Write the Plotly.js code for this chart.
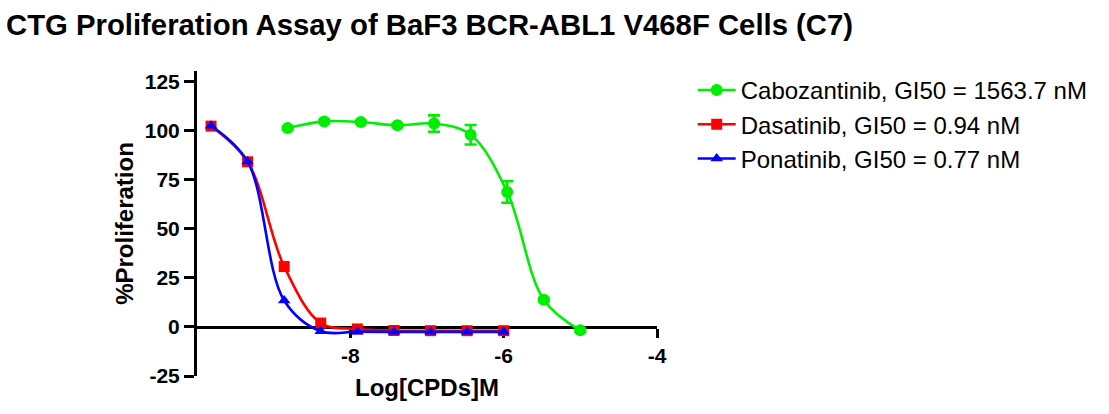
<!DOCTYPE html>
<html>
<head>
<meta charset="utf-8">
<script src="https://cdn.plot.ly/plotly-3.0.1.min.js"></script>
<style>html,body{margin:0;padding:0;background:#fff;}#chart{width:1109px;height:414px;}</style>
</head>
<body>
<div id="chart"></div>
<script>
// Log concentrations (M)
const xCabozantinib = [-8.817, -8.340, -7.863, -7.385, -6.908, -6.431, -5.954, -5.477, -5.000];
const yCabozantinib = [101.4, 104.8, 104.5, 102.8, 103.7, 98.0, 68.8, 13.9, -1.7];
const errCabozantinib = [0.8, 0.8, 0.8, 0.8, 4.2, 5.0, 5.5, 0.8, 0.8];

const xDasatinib = [-9.817, -9.340, -8.863, -8.386, -7.908, -7.431, -6.954, -6.477, -6.000];
const yDasatinib = [102.4, 84.2, 30.8, 2.0, -1.0, -1.8, -1.9, -1.9, -1.9];

const xPonatinib = [-9.817, -9.340, -8.863, -8.386, -7.908, -7.431, -6.954, -6.477, -6.000];
const yPonatinib = [102.6, 84.3, 13.5, -2.2, -2.4, -2.5, -2.5, -2.5, -2.5];

const seriesNames = [
  'Cabozantinib, GI50 = 1563.7 nM',
  'Dasatinib, GI50 = 0.94 nM',
  'Ponatinib, GI50 = 0.77 nM'
];
const xTickVals = [-8, -6, -4];
const yTickVals = [-25, 0, 25, 50, 75, 100, 125];

const FONT = 'Arial, "Liberation Sans", sans-serif';

const traces = [
  {
    x: xCabozantinib, y: yCabozantinib, name: seriesNames[0], legendgroup: 'a',
    mode: 'lines+markers', type: 'scatter', cliponaxis: false,
    line: {color: '#00ee00', width: 2.6, shape: 'spline', smoothing: 1},
    marker: {color: '#00ee00', size: 12, symbol: 'circle'},
    error_y: {type: 'data', array: errCabozantinib, visible: true, color: '#00ee00', thickness: 2.6, width: 6}
  },
  {
    x: xDasatinib, y: yDasatinib, name: seriesNames[1], legendgroup: 'b',
    mode: 'lines+markers', type: 'scatter', cliponaxis: false,
    line: {color: '#ff0000', width: 2.6, shape: 'spline', smoothing: 1},
    marker: {color: '#ff0000', size: 11, symbol: 'square'}
  },
  {
    x: xPonatinib, y: yPonatinib, name: seriesNames[2], legendgroup: 'c',
    mode: 'lines+markers', type: 'scatter', cliponaxis: false,
    line: {color: '#0000ff', width: 2.6, shape: 'spline', smoothing: 1},
    marker: {color: '#0000ff', size: 11, symbol: 'triangle-up'}
  }
];

const layout = {
  width: 1109, height: 414,
  paper_bgcolor: '#ffffff', plot_bgcolor: '#ffffff',
  margin: {l: 197, r: 452, t: 71, b: 38, pad: 0},
  font: {family: FONT, color: '#000'},
  title: {
    text: '<b>CTG Proliferation Assay of BaF3 BCR-ABL1 V468F Cells (C7)</b>',
    font: {family: FONT, size: 29.3, color: '#000'},
    xref: 'container', x: 6 / 1109, xanchor: 'left',
    yref: 'container', y: 0.94, yanchor: 'middle'
  },
  showlegend: true,
  legend: {
    x: 1.0776, xanchor: 'left', y: 1.01, yanchor: 'top',
    font: {family: FONT, size: 24, color: '#000'},
    tracegroupgap: 0, itemwidth: 38, bgcolor: 'rgba(0,0,0,0)', borderwidth: 0
  },
  xaxis: {
    range: [-10, -4], tickvals: xTickVals, ticktext: xTickVals.map(String),
    showgrid: false, zeroline: false,
    showline: true, linecolor: '#000', linewidth: 3,
    ticks: 'outside', ticklen: 9, tickwidth: 3, tickcolor: '#000',
    tickfont: {family: FONT, size: 21, color: '#000', weight: 'bold'},
    anchor: 'free', position: 25 / 155.5, layer: 'below traces',
    title: {text: '<b>Log[CPDs]M</b>', font: {family: FONT, size: 24, color: '#000'}, standoff: 13}
  },
  yaxis: {
    range: [-25, 130.5], tickvals: yTickVals, ticktext: yTickVals.map(String),
    showgrid: false, zeroline: false,
    showline: true, linecolor: '#000', linewidth: 3,
    ticks: 'outside', ticklen: 10, tickwidth: 3, tickcolor: '#000',
    tickfont: {family: FONT, size: 21, color: '#000', weight: 'bold'},
    layer: 'below traces',
    title: {text: '<b>%Proliferation</b>', font: {family: FONT, size: 24, color: '#000'}, standoff: 5}
  }
};

Plotly.newPlot('chart', traces, layout, {displayModeBar: false, staticPlot: true});
</script>
</body>
</html>
